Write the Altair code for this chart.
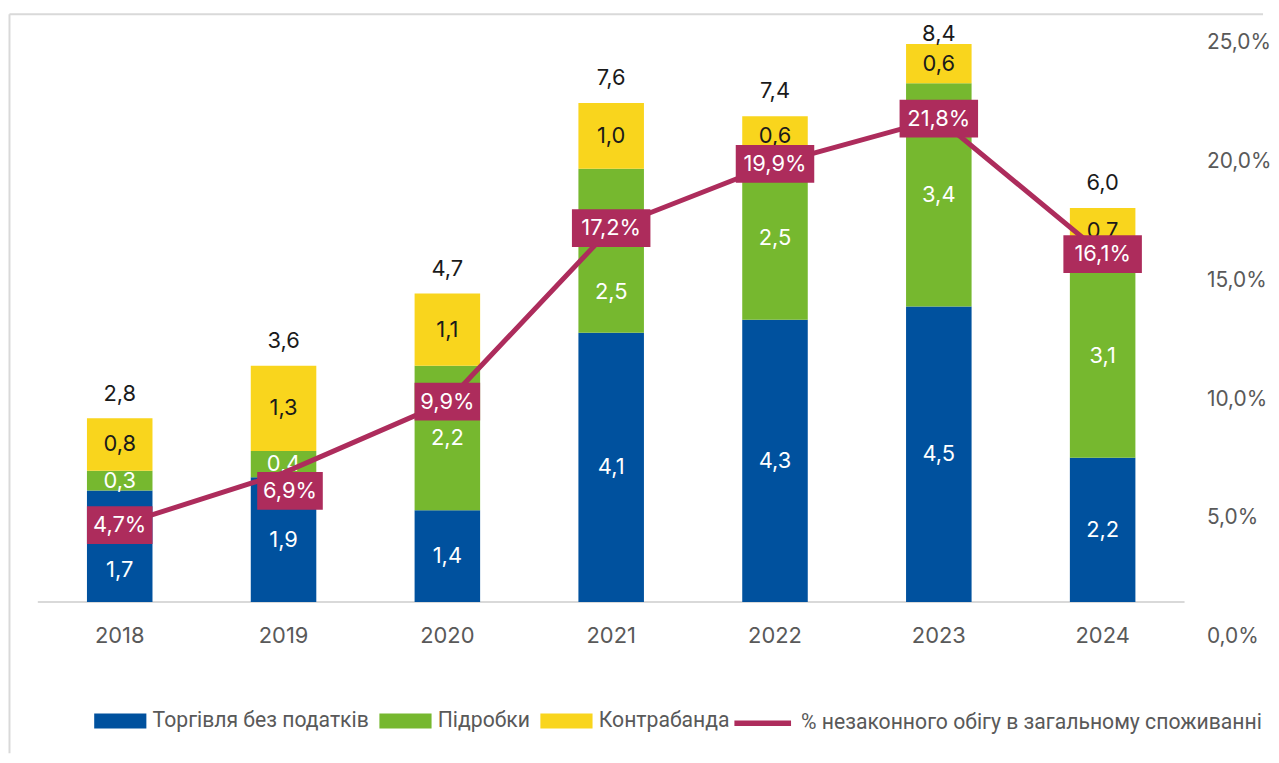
import altair as alt
import pandas as pd

years = ["2018", "2019", "2020", "2021", "2022", "2023", "2024"]
series_names = ["Торгівля без податків", "Підробки", "Контрабанда"]
duty_free = [1.7, 1.9, 1.4, 4.1, 4.3, 4.5, 2.2]
counterfeit = [0.3, 0.4, 2.2, 2.5, 2.5, 3.4, 3.1]
contraband = [0.8, 1.3, 1.1, 1.0, 0.6, 0.6, 0.7]
totals = [2.8, 3.6, 4.7, 7.6, 7.4, 8.4, 6.0]
share = [4.7, 6.9, 9.9, 17.2, 19.9, 21.8, 16.1]
line_name = "% незаконного обігу в загальному споживанні"
right_ticks = [0, 5, 10, 15, 20, 25]

colors = ["#00519E", "#76B82F", "#F9D51D"]
maroon = "#AD2C5C"
gray = "#595959"
W, H = 1154, 598
FONT = "Inter"
FS = 22
LEG_FS = 21.3


def fmt(v):
    return f"{v:.1f}".replace(".", ",")


rows = []
for i, y in enumerate(years):
    for k, vals in enumerate([duty_free, counterfeit, contraband]):
        rows.append({"year": y, "series": series_names[k], "order": k,
                     "value": vals[i], "lab": fmt(vals[i])})
seg_df = pd.DataFrame(rows)

tot_df = pd.DataFrame({
    "year": years,
    "top": [a + b + c for a, b, c in zip(duty_free, counterfeit, contraband)],
    "tlab": [fmt(t) for t in totals],
})

line_df = pd.DataFrame({
    "year": years,
    "share": share,
    "lname": [line_name] * len(years),
    "plab": [fmt(s) + "%" for s in share],
})
line_df["n"] = line_df["plab"].str.len().astype(str)

left_scale = alt.Scale(domain=[-0.53, 8.52], nice=False, zero=False)
right_scale = alt.Scale(domain=[0, 25], nice=False, zero=False)

x_enc = alt.X(
    "year:N", sort=years, title=None,
    scale=alt.Scale(paddingInner=0.6, paddingOuter=0.3),
    axis=alt.Axis(domain=False, ticks=False, tickSize=0, labelPadding=-1,
                  labelBaseline="middle", labelAngle=0, labelFont=FONT,
                  labelFontSize=FS, labelColor=gray, grid=False),
)
x_plain = alt.X("year:N", sort=years)

frame_src = alt.Chart(pd.DataFrame({"z": [0]}))
frame_top = frame_src.mark_rule(color="#D9D9D9", strokeWidth=2).encode(
    x=alt.value(-28.5), x2=alt.value(1233), y=alt.value(-28.5))
frame_left = frame_src.mark_rule(color="#D9D9D9", strokeWidth=2).encode(
    x=alt.value(-28.5), y=alt.value(-28.5), y2=alt.value(715))
baseline = frame_src.mark_rule(color="#D9D9D9", strokeWidth=2).encode(
    y=alt.YDatum(0, type="quantitative", scale=left_scale, axis=None),
    x=alt.value(0), x2=alt.value(W))

stacked = alt.Chart(seg_df).transform_stack(
    stack="value", groupby=["year"], as_=["y0", "y1"],
    sort=[alt.SortField("order", order="ascending")],
).transform_calculate(mid="(datum.y0 + datum.y1) / 2")

bars = stacked.mark_bar().encode(
    x=x_enc,
    y=alt.Y("y0:Q", scale=left_scale, axis=None),
    y2="y1:Q",
    fill=alt.Fill(
        "series:N",
        scale=alt.Scale(domain=series_names, range=colors),
        legend=alt.Legend(
            orient="none", legendX=56.5, legendY=656, direction="horizontal",
            columns=3, title=None,
            symbolType="M-1,-0.286L1,-0.286L1,0.286L-1,0.286Z",
            symbolSize=2756, symbolStrokeWidth=0, symbolOpacity=1,
            labelFont="Roboto", labelFontSize=LEG_FS, labelColor=gray,
            labelOffset=6, columnPadding=10, labelLimit=600,
        ),
    ),
)

seg_enc = dict(
    x=x_plain,
    y=alt.Y("mid:Q", scale=left_scale, axis=None),
    text="lab:N",
    color=alt.condition(alt.datum.series == "Контрабанда",
                        alt.value("#1A1A1A"), alt.value("white")),
)

# labels the reference nudged away from the percentage boxes
nudged_a = (alt.datum.year == "2018") & (alt.datum.order == 0)
nudged_b = (alt.datum.year == "2021") & (alt.datum.order == 1)

seg_text = stacked.transform_filter(~(nudged_a | nudged_b)).mark_text(
    font=FONT, fontSize=FS, baseline="middle").encode(**seg_enc)
seg_text_a = stacked.transform_filter(nudged_a).mark_text(
    font=FONT, fontSize=FS, baseline="middle", dy=24).encode(**seg_enc)
seg_text_b = stacked.transform_filter(nudged_b).mark_text(
    font=FONT, fontSize=FS, baseline="middle", dy=42).encode(**seg_enc)

tot_text = alt.Chart(tot_df).transform_calculate(
    ly="min(datum.top + 0.27, 8.55)"
).mark_text(font=FONT, fontSize=FS, baseline="alphabetic", color="#1A1A1A").encode(
    x=x_plain,
    y=alt.Y("ly:Q", scale=left_scale, axis=None),
    text="tlab:N",
)

left = alt.layer(frame_top, frame_left, baseline, bars,
                 seg_text, seg_text_a, seg_text_b, tot_text)

y_right = alt.Y(
    "share:Q", scale=right_scale, title=None,
    axis=alt.Axis(orient="right", values=right_ticks, domain=False, ticks=False,
                  grid=False, labelPadding=22, labelFont=FONT, labelFontSize=21,
                  labelColor=gray,
                  labelExpr="replace(format(datum.value, '.1f'), '.', ',') + '%'"),
)

line = alt.Chart(line_df).mark_line(strokeWidth=5).encode(
    x=x_plain,
    y=y_right,
    stroke=alt.Stroke(
        "lname:N",
        scale=alt.Scale(domain=[line_name], range=[maroon]),
        legend=alt.Legend(
            orient="none", legendX=698, legendY=653.5, title=None,
            symbolType="stroke", symbolSize=3249, symbolStrokeWidth=5.5,
            labelFont="Roboto", labelFontSize=LEG_FS, labelColor=gray,
            labelOffset=7, labelLimit=700,
        ),
    ),
)

box4 = "M-0.825,-0.475L0.825,-0.475L0.825,0.475L-0.825,0.475Z"
box5 = "M-0.9875,-0.475L0.9875,-0.475L0.9875,0.475L-0.9875,0.475Z"

moved = alt.datum.year == "2019"  # label box dragged off its point in the reference

box_enc = dict(
    x=x_plain,
    y=alt.Y("share:Q", scale=right_scale),
    shape=alt.Shape("n:N", scale=alt.Scale(domain=["4", "5"], range=[box4, box5]),
                    legend=None),
)
txt_enc = dict(x=x_plain, y=alt.Y("share:Q", scale=right_scale), text="plab:N")

src = alt.Chart(line_df)
boxes = src.transform_filter(~moved).mark_point(
    filled=True, opacity=1, size=6400, color=maroon, strokeWidth=0).encode(**box_enc)
box_text = src.transform_filter(~moved).mark_text(
    font=FONT, fontSize=FS, baseline="middle", color="white").encode(**txt_enc)
boxes_m = src.transform_filter(moved).mark_point(
    filled=True, opacity=1, size=6400, color=maroon, strokeWidth=0,
    xOffset=6.5, yOffset=18).encode(**box_enc)
box_text_m = src.transform_filter(moved).mark_text(
    font=FONT, fontSize=FS, baseline="middle", color="white",
    dx=6.5, dy=18).encode(**txt_enc)

right = alt.layer(line, boxes, boxes_m, box_text, box_text_m)

chart = alt.layer(left, right).resolve_scale(y="independent").properties(
    width=W, height=H,
    padding={"left": 0, "top": 2.5, "right": 0, "bottom": 0},
).configure(background="white").configure_view(stroke=None)

chart.save("out.html", embed_options={"renderer": "svg", "actions": False})
